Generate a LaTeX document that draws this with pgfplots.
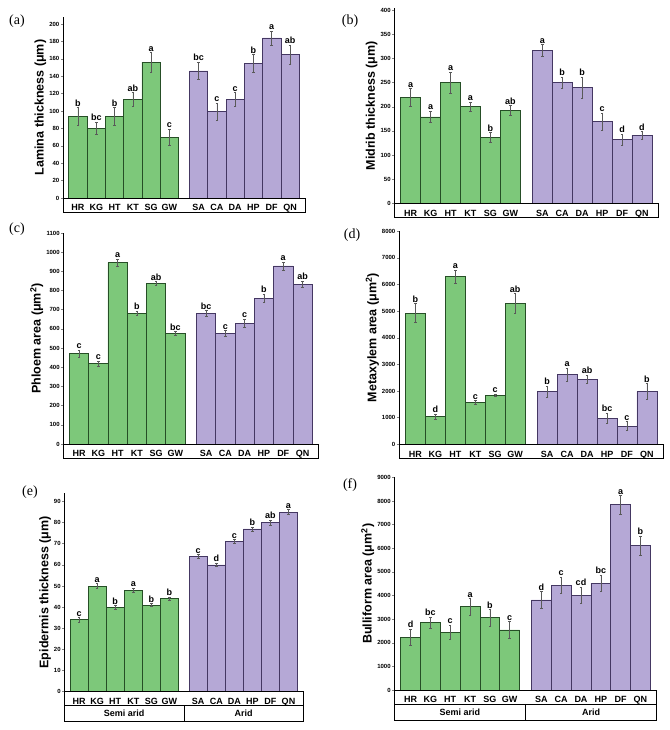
\documentclass[border=0pt]{standalone}
\usepackage{fontspec}
\setmainfont{Liberation Sans}
\newfontfamily\serif{Liberation Serif}
\usepackage{pgfplots}
\usepackage{pgfplotstable}
\pgfplotsset{compat=1.18}
\definecolor{gfill}{RGB}{125,200,122}
\definecolor{gedge}{RGB}{38,78,38}
\definecolor{pfill}{RGB}{181,168,214}
\definecolor{pedge}{RGB}{68,55,98}

% panel (a) Lamina thickness
\pgfplotstableread{
x y e l
0 94 10 b
1 80 7 bc
2 94 10 b
3 113 8 ab
4 156 11 a
5 70 9 c
}\aS
\pgfplotstableread{
x y e l
6.6 146 10 bc
7.6 99 10 c
8.6 113 8 c
9.6 155 10 b
10.6 184 8 a
11.6 165 11 ab
}\aA
% panel (b) Midrib thickness
\pgfplotstableread{
x y e l
0 220 18 a
1 179 12 a
2 250 22 a
3 200 10 a
4 137 10 b
5 193 10 ab
}\bS
\pgfplotstableread{
x y e l
6.6 317 12 a
7.6 250 12 b
8.6 240 22 b
9.6 169 18 c
10.6 132 12 d
11.6 141 8 d
}\bA
% panel (c) Phloem area
\pgfplotstableread{
x y e l
0 471 20 c
1 418 15 c
2 945 20 a
3 682 12 b
4 837 10 ab
5 576 10 bc
}\cS
\pgfplotstableread{
x y e l
6.6 682 14 bc
7.6 576 15 c
8.6 629 22 c
9.6 759 22 b
10.6 928 22 a
11.6 834 15 ab
}\cA
% panel (d) Metaxylem area
\pgfplotstableread{
x y e l
0 4930 350 b
1 1040 100 d
2 6290 250 a
3 1580 60 c
4 1840 50 c
5 5290 380 ab
}\dS
\pgfplotstableread{
x y e l
6.6 1980 200 b
7.6 2620 250 a
8.6 2450 150 ab
9.6 980 200 bc
10.6 680 170 c
11.6 1980 300 b
}\dA
% panel (e) Epidermis thickness
\pgfplotstableread{
x y e l
0 34 1 c
1 50 1.2 a
2 40 0.8 b
3 48 1 a
4 41 0.8 b
5 44 0.8 b
}\eS
\pgfplotstableread{
x y e l
6.6 64 1 c
7.6 60 0.8 d
8.6 71 1 c
9.6 77 1 b
10.6 80 1.2 ab
11.6 85 1.2 a
}\eA
% panel (f) Bulliform area
\pgfplotstableread{
x y e l
0 2230 350 d
1 2850 250 bc
2 2440 300 c
3 3530 350 a
4 3060 350 b
5 2540 350 c
}\fS
\pgfplotstableread{
x y e l
6.6 3810 350 d
7.6 4440 350 c
8.6 4010 350 cd
9.6 4510 350 bc
10.6 7840 400 a
11.6 6110 400 b
}\fA

\pgfplotsset{
  panel/.style={
    scale only axis, clip=false, anchor=south west,
    axis y line*=left, axis x line*=bottom,
    axis line style={line width=0.6pt},
    xmin=-0.82, xmax=12.42, ymin=0,
    xtick={0,1,2,3,4,5,6.6,7.6,8.6,9.6,10.6,11.6},
    xticklabels={HR,KG,HT,KT,SG,GW,SA,CA,DA,HP,DF,QN},
    x tick style={draw=none},
    xticklabel style={font=\bfseries\fontsize{9}{10}\selectfont, anchor=center, yshift=-7pt, text height=1.45ex, text depth=0pt},
    yticklabel style={font=\bfseries\fontsize{6}{7}\selectfont, inner sep=1.5pt},
    tick align=outside, ytick pos=left, major tick length=2pt,
    y tick style={line width=0.5pt},
    ylabel style={font=\bfseries\fontsize{12.5}{14}\selectfont, yshift=-2pt},
    /pgf/number format/assume math mode=true,
    /pgf/number format/1000 sep={},
    after end axis/.code={\draw[line width=0.6pt] (rel axis cs:0,0) rectangle ([yshift=-14pt]rel axis cs:1,0);},
  },
  grouprow/.style={
    after end axis/.append code={
      \draw[line width=0.6pt] ([yshift=-14pt]rel axis cs:0,0) rectangle ([yshift=-30pt]rel axis cs:1,0);
      \draw[line width=0.6pt] ([yshift=-14pt]axis cs:5.8,0) -- ([yshift=-30pt]axis cs:5.8,0);
      \node[font=\bfseries\fontsize{9}{10}\selectfont] at ([yshift=-22pt]axis cs:2.49,0) {Semi arid};
      \node[font=\bfseries\fontsize{9}{10}\selectfont] at ([yshift=-22pt]axis cs:9.11,0) {Arid};
    }
  },
  gbar/.style={ybar, bar width=1, bar shift=0pt, fill=gfill, draw=gedge, line width=0.7pt,
    error bars/.cd, y dir=both, y explicit,
    error bar style={draw=black!65, line width=0.5pt},
    error mark options={rotate=90, mark size=1.3pt, draw=black!65, line width=0.5pt}},
  pbar/.style={ybar, bar width=1, bar shift=0pt, fill=pfill, draw=pedge, line width=0.7pt,
    error bars/.cd, y dir=both, y explicit,
    error bar style={draw=black!65, line width=0.5pt},
    error mark options={rotate=90, mark size=1.3pt, draw=black!65, line width=0.5pt}},
  letters/.style={draw=none, mark=none, nodes near coords, point meta=explicit symbolic,
    nodes near coords style={anchor=south, inner sep=1pt, font=\bfseries\fontsize{9}{10}\selectfont}},
}

\newcommand\bars[2]{%
  \addplot[gbar] table[x=x, y=y, y error=e] {#1};
  \addplot[pbar] table[x=x, y=y, y error=e] {#2};
  \addplot[letters] table[x=x, y expr=\thisrow{y}+\thisrow{e}, meta=l] {#1};
  \addplot[letters] table[x=x, y expr=\thisrow{y}+\thisrow{e}, meta=l] {#2};
}

\begin{document}
\begin{tikzpicture}
\path (0pt,0pt) rectangle (669pt,730pt);

% (a)
\begin{axis}[panel, at={(63pt,532pt)}, width=242pt, height=181pt,
  ymax=208, ytick={0,20,...,200}, ylabel={Lamina thickness (μm)}]
\bars{\aS}{\aA}
\end{axis}

% (b)
\begin{axis}[panel, at={(394.3pt,526.7pt)}, width=264pt, height=195pt,
  ymax=404, ytick={0,50,...,400}, ylabel={Midrib thickness (μm)}]
\bars{\bS}{\bA}
\end{axis}

% (c)
\begin{axis}[panel, at={(63.3pt,286pt)}, width=255pt, height=211pt,
  ymax=1100, ytick={0,100,...,1100}, ylabel={Phloem area (μm\textsuperscript{2})}]
\bars{\cS}{\cA}
\end{axis}

% (d)
\begin{axis}[panel, at={(399pt,285.7pt)}, width=264.3pt, height=213pt,
  ymax=8000, ytick={0,1000,...,8000}, ylabel={Metaxylem area (μm\textsuperscript{2})}]
\bars{\dS}{\dA}
\end{axis}

% (e)
\begin{axis}[panel, grouprow, at={(64.3pt,38.3pt)}, width=239pt, height=198.7pt,
  ymax=94, ytick={0,10,...,90}, ylabel={Epidermis thickness (μm)}]
\bars{\eS}{\eA}
\end{axis}

% (f)
\begin{axis}[panel, grouprow, at={(394.3pt,40pt)}, width=262.4pt, height=212.6pt,
  ymax=9000, ytick={0,1000,...,9000}, ylabel={Bulliform area (μm\textsuperscript{2})}]
\bars{\fS}{\fA}
\end{axis}

\node[font=\serif\fontsize{14}{16}\selectfont] at (17pt,709pt) {(a)};
\node[font=\serif\fontsize{14}{16}\selectfont] at (350pt,709pt) {(b)};
\node[font=\serif\fontsize{14}{16}\selectfont] at (17pt,501pt) {(c)};
\node[font=\serif\fontsize{14}{16}\selectfont] at (352pt,495pt) {(d)};
\node[font=\serif\fontsize{14}{16}\selectfont] at (30pt,238pt) {(e)};
\node[font=\serif\fontsize{14}{16}\selectfont] at (350pt,245pt) {(f)};
\end{tikzpicture}
\end{document}
